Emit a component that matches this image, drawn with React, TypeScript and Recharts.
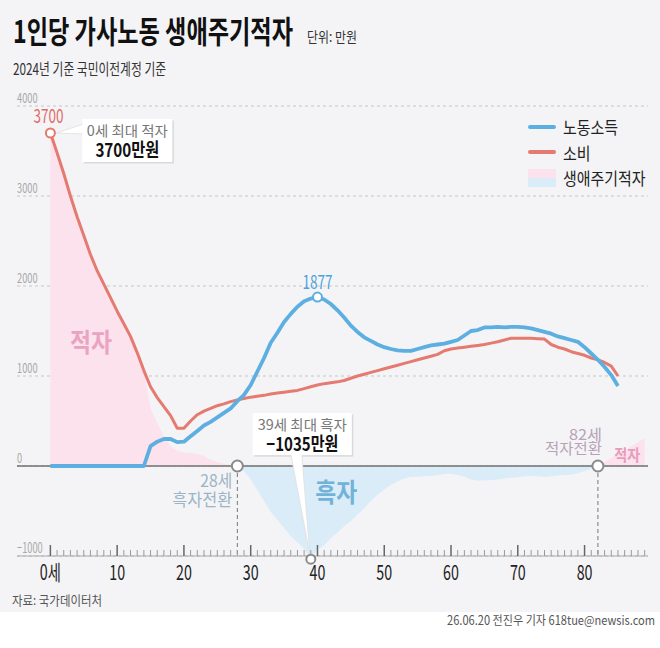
import { useLayoutEffect, useRef } from 'react'
import { Area, CartesianGrid, ComposedChart, Legend, Line, ReferenceDot, ReferenceLine, XAxis, YAxis } from 'recharts'

const KR = "'Noto Sans CJK KR', 'Noto Sans', sans-serif"

// 연령별 1인당 가사노동 소득 (0~85세, 만원)
const labor = [
  0, 0, 0, 0, 0, 0, 0, 0, 0, 0,
  0, 0, 0, 0, 0, 220, 270, 300, 300, 265,
  270, 330, 390, 450, 490, 540, 590, 640, 720, 790,
  900, 1050, 1200, 1370, 1480, 1600, 1690, 1770, 1830, 1860,
  1877, 1850, 1800, 1730, 1650, 1560, 1490, 1430, 1390, 1350,
  1320, 1300, 1285, 1280, 1280, 1300, 1320, 1340, 1350, 1360,
  1380, 1400, 1450, 1500, 1510, 1540, 1540, 1545, 1540, 1545,
  1545, 1540, 1530, 1510, 1490, 1470, 1440, 1420, 1400, 1380,
  1320, 1250, 1180, 1100, 1010, 890,
]

// 연령별 1인당 가사노동 소비 (0~85세, 만원)
const consumption = [
  3700, 3480, 3250, 3000, 2770, 2560, 2350, 2170, 2020, 1870,
  1720, 1580, 1440, 1260, 1060, 880, 760, 660, 560, 420,
  420, 500, 570, 610, 640, 670, 690, 715, 735, 750,
  765, 775, 785, 800, 810, 820, 830, 840, 860, 880,
  900, 915, 925, 935, 950, 975, 1000, 1020, 1040, 1060,
  1080, 1100, 1120, 1140, 1160, 1180, 1200, 1220, 1240, 1280,
  1300, 1310, 1320, 1330, 1340, 1350, 1365, 1380, 1400, 1420,
  1420, 1420, 1420, 1415, 1410, 1350, 1320, 1300, 1270, 1250,
  1230, 1200, 1180, 1150, 1110, 1000,
]

// 생애주기적자 (0~89세, 만원)
const deficit = [
  3700, 3480, 3250, 3000, 2770, 2560, 2350, 2170, 2020, 1870,
  1720, 1580, 1440, 1260, 1060, 640, 480, 330, 220, 170,
  150, 145, 135, 110, 70, 45, 25, 10, 0, -60,
  -150, -270, -390, -510, -600, -690, -780, -850, -920, -1035,
  -930, -880, -800, -740, -670, -610, -540, -470, -390, -320,
  -260, -210, -170, -140, -120, -120, -115, -110, -100, -90,
  -85, -100, -120, -150, -160, -160, -155, -150, -140, -130,
  -125, -115, -110, -115, -120, -115, -105, -100, -95, -80,
  -55, -30, 0, 45, 90, 130, 175, 220, 265, 310,
]

const valueTicks = [-1000, 0, 1000, 2000, 3000, 4000]
const surplusTurn = 28
const deficitTurn = 82

const table = deficit.map((d, age) => ({ age, labor: labor[age], consumption: consumption[age], deficit: d }))
const ageTicks = table.map((r) => r.age)
const maxDeficit = Math.max(...deficit)
const minDeficit = Math.min(...deficit)
const minDeficitAge = deficit.indexOf(minDeficit)
const split = maxDeficit / (maxDeficit - minDeficit)
const laborPeak = Math.max(...labor)
const laborPeakAge = labor.indexOf(laborPeak)

const BLUE = '#5cafe0'
const RED = '#e47a70'

function Tx({ x, y, size, w, s, fill, anchor = 'start', weight = 400, children }: any) {
  const ref = useRef<SVGTextElement>(null)
  useLayoutEffect(() => {
    const el = ref.current
    if (!el || !w) return
    const len = el.getComputedTextLength()
    if (len > 0) el.setAttribute('transform', `translate(${x} ${y}) scale(${w / len} 1)`)
  })
  return (
    <text ref={ref} transform={`translate(${x} ${y}) scale(${s || 0.75} 1)`} fontSize={size} fill={fill}
      textAnchor={anchor} fontWeight={weight} fontFamily={KR}>
      {children}
    </text>
  )
}

// stacked lines in one text element, each line squeezed to its width
function Stack({ x, anchor, fill, rows }: any) {
  return (
    <text fontFamily={KR} textAnchor={anchor} fill={fill}>
      {rows.map((r: any, i: number) => (
        <tspan key={i} x={x} y={r.y} fontSize={r.size} fontWeight={r.weight || 400} fill={r.fill || fill}
          textLength={r.w} lengthAdjust="spacingAndGlyphs">
          {r.text}
        </tspan>
      ))}
    </text>
  )
}

function AgeTick({ x, y, payload }: any) {
  const v = payload.value
  if (v < 0) return null
  const major = v % 10 === 0
  return (
    <g>
      <line x1={x} x2={x} y1={y} y2={y - (major ? 11 : 6)} stroke={major ? '#666' : '#9a9a9a'} strokeWidth={major ? 1.5 : 1} />
      {major && (
        <Tx x={x} y={y + 24} size={21} s={0.68} fill="#222" anchor="middle">{v === 0 ? '0세' : v}</Tx>
      )}
    </g>
  )
}

function ValueTick({ x, y, payload }: any) {
  const v = payload.value
  return <Tx x={x} y={y - 3} size={14} s={0.66} fill="#a8a8a8">{v < 0 ? `−${-v}` : v}</Tx>
}

function Callout({ cx, cy, bx, by, bw, bh, tip, title, value }: any) {
  return (
    <g>
      <rect x={cx + bx + 1.5} y={cy + by + 1.5} width={bw} height={bh} fill="#d9d9dc" />
      <polygon points={tip} fill="#fff" stroke="#dedede" strokeWidth={0.8} />
      <rect x={cx + bx} y={cy + by} width={bw} height={bh} fill="#fff" />
      <Stack x={cx + bx + bw / 2} anchor="middle" fill="#777" rows={[
        { text: title.text, y: cy + by + 17, size: 14, w: title.w },
        { text: value.text, y: cy + by + 38, size: 19, w: value.w, weight: 700, fill: '#111' },
      ]} />
    </g>
  )
}

function StartDot({ cx, cy }: any) {
  return (
    <g>
      <Tx x={cx - 2} y={cy - 10} size={19} w={30} fill="#e06c66" anchor="middle">{consumption[0]}</Tx>
      <Callout cx={cx} cy={cy} bx={32} by={-14} bw={90} bh={43}
        tip={`${cx + 6},${cy} ${cx + 33},${cy - 9} ${cx + 33},${cy + 1}`}
        title={{ text: '0세 최대 적자', w: 81 }} value={{ text: `${consumption[0]}만원`, w: 64 }} />
      <circle cx={cx} cy={cy} r={4.5} fill="#fff" stroke={RED} strokeWidth={2} />
    </g>
  )
}

function SurplusDot({ cx, cy }: any) {
  return (
    <g>
      <Callout cx={cx} cy={cy} bx={-58} by={-146} bw={99} bh={42}
        tip={`${cx - 20},${cy - 105} ${cx - 9},${cy - 105} ${cx - 1},${cy - 5}`}
        title={{ text: `${minDeficitAge}세 최대 흑자`, w: 89 }} value={{ text: `−${-minDeficit}만원`, w: 72 }} />
      <circle cx={cx} cy={cy} r={4.5} fill="#fff" stroke="#8a8a8a" strokeWidth={2} />
    </g>
  )
}

function PeakDot({ cx, cy }: any) {
  return (
    <g>
      <Tx x={cx} y={cy - 8} size={19} w={30} fill="#4aa3dc" anchor="middle">{laborPeak}</Tx>
      <circle cx={cx} cy={cy} r={4.5} fill="#fff" stroke={BLUE} strokeWidth={2} />
    </g>
  )
}

function TurnDot({ cx, cy, first, second, color, size, dx, y1, y2, w1, w2 }: any) {
  return (
    <g>
      <Stack x={cx + dx} anchor="end" fill={color} rows={[
        { text: first, y: cy + y1, size, w: w1 },
        { text: second, y: cy + y2, size, w: w2 },
      ]} />
      <circle cx={cx} cy={cy} r={5.5} fill="#fff" stroke="#8a8a8a" strokeWidth={2} />
    </g>
  )
}

function AreaLabel({ cx, cy, text, size, w, color }: any) {
  return <Tx x={cx} y={cy} size={size} w={w} fill={color} anchor="middle" weight={700}>{text}</Tx>
}

function LegendBox() {
  const rows = [
    { label: '노동소득', kind: 'line', color: BLUE },
    { label: '소비', kind: 'line', color: RED },
    { label: '생애주기적자', kind: 'area', color: '' },
  ]
  return (
    <div style={{ fontFamily: KR }}>
      {rows.map((r) => (
        <div key={r.label} style={{ display: 'flex', alignItems: 'center', height: 25.5 }}>
          {r.kind === 'line' ? (
            <div style={{ width: 28, height: 4, background: r.color, borderRadius: 2 }} />
          ) : (
            <div style={{ width: 28, height: 18 }}>
              <div style={{ height: 9, background: '#fbe2ec' }} />
              <div style={{ height: 9, background: '#d9ecf8' }} />
            </div>
          )}
          <span style={{ marginLeft: 7, fontSize: 17, color: '#222', display: 'inline-block', transform: 'scaleX(0.88)', transformOrigin: 'left center', whiteSpace: 'nowrap' }}>
            {r.label}
          </span>
        </div>
      ))}
    </div>
  )
}

export default function App() {
  return (
    <div style={{ position: 'absolute', left: 0, top: 0, width: 660, height: 648, background: '#fff', overflow: 'hidden' }}>
      <div style={{ position: 'absolute', left: 0, top: 0, width: 660, height: 612, background: '#f4f4f6' }} />
      <svg width={660} height={648} style={{ position: 'absolute', left: 0, top: 0 }}>
        <Tx x={13} y={43} size={31} w={280} fill="#111" weight={700}>1인당 가사노동 생애주기적자</Tx>
        <Tx x={307} y={42} size={14} w={50} fill="#333">단위: 만원</Tx>
        <Tx x={13} y={75} size={16} w={153} fill="#333">2024년 기준 국민이전계정 기준</Tx>
        <Tx x={12} y={605} size={13} w={90} fill="#555">자료: 국가데이터처</Tx>
        <Tx x={655} y={625} size={12.5} w={208} fill="#555" anchor="end">26.06.20 전진우 기자 618tue@newsis.com</Tx>
      </svg>
      <div style={{ position: 'absolute', left: 0, top: 0 }}>
        <ComposedChart width={660} height={612} data={table} margin={{ top: 106, right: 12, bottom: 16, left: 16 }}>
          <defs>
            <linearGradient id="deficitFill" x1="0" y1="0" x2="0" y2="1">
              <stop offset={split} stopColor="#fbe2ec" />
              <stop offset={split} stopColor="#d9ecf8" />
            </linearGradient>
          </defs>
          <CartesianGrid vertical={false} strokeDasharray="3 3" stroke="#c6c6c6" />
          <XAxis dataKey="age" type="number" domain={[-5, 89.5]} ticks={ageTicks} interval={0} height={40}
            tickSize={0} tickMargin={0} tickLine={false} axisLine={{ stroke: '#aaa' }} tick={<AgeTick />} />
          <YAxis type="number" domain={[-1000, 4000]} allowDataOverflow ticks={valueTicks} interval={0} width={1}
            tickSize={0} tickMargin={0} tickLine={false} axisLine={false} tick={<ValueTick />} />
          <Legend layout="vertical" align="center" verticalAlign="middle" content={<LegendBox />}
            wrapperStyle={{ left: 528, top: 114, width: 130 }} />
          <Area dataKey="deficit" name="생애주기적자" type="linear" baseValue={0} stroke="none" fill="url(#deficitFill)" fillOpacity={1} isAnimationActive={false} />
          <ReferenceLine y={0} stroke="#707070" strokeWidth={1.5} />
          <ReferenceLine segment={[{ x: surplusTurn, y: 0 }, { x: surplusTurn, y: -1000 }]} stroke="#777" strokeDasharray="4 3" />
          <ReferenceLine segment={[{ x: deficitTurn, y: 0 }, { x: deficitTurn, y: -1000 }]} stroke="#777" strokeDasharray="4 3" />
          <Line dataKey="consumption" name="소비" type="linear" stroke={RED} strokeWidth={3} dot={false} strokeLinejoin="round" isAnimationActive={false} />
          <Line dataKey="labor" name="노동소득" type="linear" stroke={BLUE} strokeWidth={3.8} dot={false} strokeLinejoin="round" isAnimationActive={false} />
          <ReferenceDot x={6.1} y={1270} ifOverflow="visible" shape={(p: any) => <AreaLabel {...p} text="적자" size={26} w={42} color="#eaa3c1" />} />
          <ReferenceDot x={42.8} y={-400} ifOverflow="visible" shape={(p: any) => <AreaLabel {...p} text="흑자" size={26} w={42} color="#72b2d8" />} />
          <ReferenceDot x={86.4} y={55} ifOverflow="visible" shape={(p: any) => <AreaLabel {...p} text="적자" size={16} w={26} color="#e89bbb" />} />
          <ReferenceDot x={surplusTurn} y={0} ifOverflow="visible"
            shape={(p: any) => <TurnDot {...p} first={`${surplusTurn}세`} second="흑자전환" color="#9bb4c6" size={17} dx={-5} y1={21} y2={40} w1={32} w2={60} />} />
          <ReferenceDot x={deficitTurn} y={0} ifOverflow="visible"
            shape={(p: any) => <TurnDot {...p} first={`${deficitTurn}세`} second="적자전환" color="#b8a2b6" size={15} dx={4} y1={-26} y2={-12} w1={33} w2={57} />} />
          <ReferenceDot x={laborPeakAge} y={laborPeak} ifOverflow="visible" shape={(p: any) => <PeakDot {...p} />} />
          <ReferenceDot x={0} y={consumption[0]} ifOverflow="visible" shape={(p: any) => <StartDot {...p} />} />
          <ReferenceDot x={minDeficitAge} y={minDeficit} ifOverflow="visible" shape={(p: any) => <SurplusDot {...p} />} />
        </ComposedChart>
      </div>
    </div>
  )
}
